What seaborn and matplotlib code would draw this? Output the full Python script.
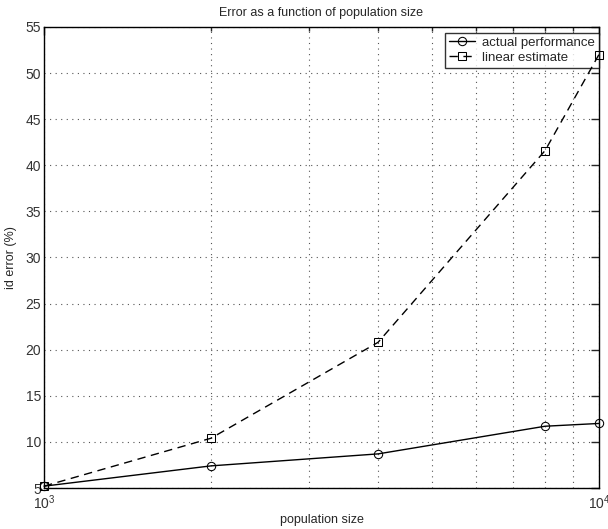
import matplotlib
matplotlib.use("Agg")
import matplotlib.pyplot as plt
import seaborn as sns
import pandas as pd
from matplotlib.ticker import LogLocator, NullFormatter

sns.set_style("white")
plt.rcParams['font.family'] = ['Liberation Sans', 'DejaVu Sans']
plt.rcParams['mathtext.fontset'] = 'custom'
plt.rcParams['mathtext.rm'] = 'Liberation Sans'

population = [1000, 2000, 4000, 8000, 10000]
actual = [5.2, 7.4, 8.7, 11.7, 12.0]
linear = [5.2, 10.4, 20.8, 41.6, 52.0]
series_names = ["actual performance", "linear estimate"]

df_a = pd.DataFrame({"population": population, "error": actual})
df_l = pd.DataFrame({"population": population, "error": linear})

fig = plt.figure(figsize=(6.08, 5.29), dpi=100)
ax = fig.add_axes([0.0724, 0.0775, 0.9126, 0.8715])

sns.lineplot(data=df_a, x="population", y="error", ax=ax, color="black",
             marker="o", markersize=6, markerfacecolor="none", markeredgecolor="black",
             linewidth=1.0, label=series_names[0], clip_on=False, zorder=10)
sns.lineplot(data=df_l, x="population", y="error", ax=ax, color="black",
             marker="s", markersize=5.5, markerfacecolor="none", markeredgecolor="black",
             linewidth=1.0, linestyle=(0, (6, 4)), label=series_names[1],
             clip_on=False, zorder=10)

ax.set_xscale("log")
ax.set_xlim(1000, 10000)
ax.set_ylim(5, 55)
ax.set_yticks(range(5, 56, 5))
ax.xaxis.set_major_locator(LogLocator(base=10))
ax.xaxis.set_minor_locator(LogLocator(base=10, subs=range(2, 10)))
ax.xaxis.set_minor_formatter(NullFormatter())
ax.grid(True, which="both", axis="x", linestyle=(0, (1, 4)), color="#555555", linewidth=0.8)
ax.grid(True, which="major", axis="y", linestyle=(0, (1, 4)), color="#555555", linewidth=0.8)

ax.tick_params(axis="both", which="both", direction="in", top=True, right=True,
               labelsize=10, labelcolor="#333333")
ax.tick_params(which="major", length=6, width=1)
ax.tick_params(which="minor", length=3, width=1)
ax.tick_params(axis="x", pad=4)
ax.tick_params(axis="y", pad=2)
for s in ax.spines.values():
    s.set_visible(True)
    s.set_color("black")
    s.set_linewidth(1.0)

ax.set_title("Error as a function of population size", fontsize=9, pad=8)
ax.set_xlabel("population size", fontsize=9, labelpad=1)
ax.set_ylabel("id error (%)", fontsize=9, labelpad=6)

leg = ax.legend(loc="upper right", bbox_to_anchor=(1.0, 0.988), fontsize=9.5,
                frameon=True, fancybox=False, edgecolor="black", borderaxespad=0.0,
                handlelength=2.0, borderpad=0.3, labelspacing=0.2, handletextpad=0.5)
leg.get_frame().set_linewidth(1.0)
leg.set_zorder(5)

fig.savefig("out.png", dpi=100)
